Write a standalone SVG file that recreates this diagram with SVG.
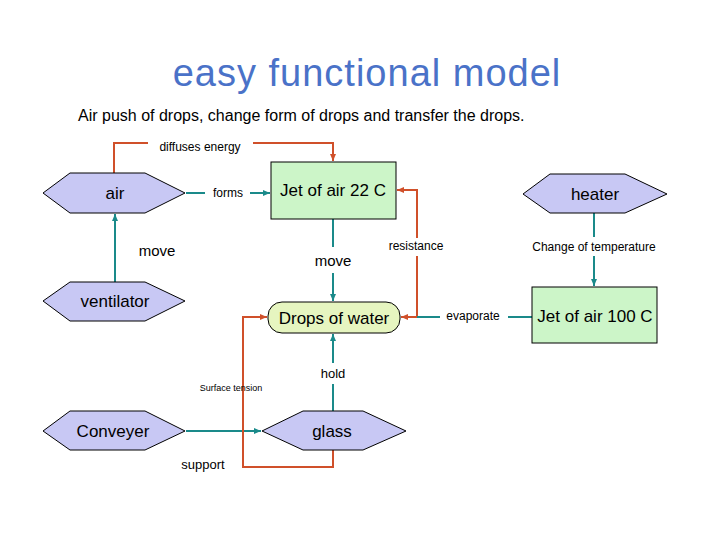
<svg xmlns="http://www.w3.org/2000/svg" width="720" height="540" viewBox="0 0 720 540">
<defs>
<marker id="at" markerWidth="8" markerHeight="8" refX="7" refY="4" orient="auto" markerUnits="userSpaceOnUse"><path d="M0,1 L7,4 L0,7 z" fill="#1a8a8a"/></marker>
<marker id="ar" markerWidth="8" markerHeight="8" refX="7" refY="4" orient="auto" markerUnits="userSpaceOnUse"><path d="M0,1 L7,4 L0,7 z" fill="#d0502a"/></marker>
</defs>
<style>
text{font-family:"Liberation Sans",Arial,sans-serif;fill:#000}
.hex{fill:#c8c8f4;stroke:#000;stroke-width:1}
.box{fill:#ccf5c8;stroke:#000;stroke-width:1}
.t{stroke:#1a8a8a;stroke-width:2;fill:none}
.r{stroke:#d0502a;stroke-width:2;fill:none}
.n{font-size:17px;text-anchor:middle}
.s{font-size:12px;text-anchor:middle}
.m{font-size:15px;text-anchor:middle}
</style>
<rect width="720" height="540" fill="#fff"/>
<text x="367" y="86" style="font-size:38px;fill:#4a72c8;text-anchor:middle;letter-spacing:1px">easy functional model</text>
<text x="78" y="121" style="font-size:16px">Air push of drops, change form of drops and transfer the drops.</text>
<g id="connectors">
<polyline class="r" points="114,173 114,143 148,143"/>
<polyline class="r" points="253,143 333,143 333,161" marker-end="url(#ar)"/>
<text x="200" y="151" class="s">diffuses energy</text>
<line class="t" x1="186" y1="193" x2="205" y2="193"/>
<line class="t" x1="250" y1="193" x2="270" y2="193" marker-end="url(#at)"/>
<text x="228" y="197" class="s">forms</text>
<line class="t" x1="115" y1="282" x2="115" y2="214" marker-end="url(#at)"/>
<text x="157" y="256" class="m">move</text>
<line class="t" x1="333" y1="219" x2="333" y2="247"/>
<line class="t" x1="333" y1="273" x2="333" y2="301" marker-end="url(#at)"/>
<text x="333" y="266" class="m">move</text>
<polyline class="r" points="417,317 417,256"/>
<polyline class="r" points="417,238 417,190 397,190" marker-end="url(#ar)"/>
<text x="416" y="250" class="s">resistance</text>
<line class="t" x1="532" y1="317" x2="508" y2="317"/>
<line class="t" x1="440" y1="317" x2="417" y2="317"/>
<line class="r" x1="417" y1="317" x2="401" y2="317" marker-end="url(#ar)"/>
<text x="473" y="320" class="s">evaporate</text>
<line class="t" x1="594" y1="213" x2="594" y2="237"/>
<line class="t" x1="594" y1="256" x2="594" y2="286" marker-end="url(#at)"/>
<text x="594" y="251" class="s">Change of temperature</text>
<line class="t" x1="333" y1="411" x2="333" y2="384"/>
<line class="t" x1="333" y1="363" x2="333" y2="334" marker-end="url(#at)"/>
<text x="333" y="378" class="s" style="font-size:13px">hold</text>
<line class="t" x1="186" y1="431" x2="261" y2="431" marker-end="url(#at)"/>
<polyline class="r" points="333,450 333,467 243,467 243,317 267,317" marker-end="url(#ar)"/>
<text x="231" y="391" class="s" style="font-size:9px">Surface tension</text>
<text x="203" y="469" class="s" style="font-size:13px">support</text>
</g>
<g id="air"><polygon class="hex" points="43,193 70,173 145,173 185,193 145,213 70,213"/><text x="115" y="199" class="n">air</text></g>
<g id="ventilator"><polygon class="hex" points="43,301 70,282 145,282 185,301 145,321 70,321"/><text x="115" y="307" class="n">ventilator</text></g>
<g id="jet22"><rect class="box" x="271" y="162" width="125" height="57"/><text x="333" y="196" class="n">Jet of air 22 C</text></g>
<g id="drops"><rect x="268" y="302" width="132" height="31" rx="14" fill="#e6f5c0" stroke="#000"/><text x="334" y="324" class="n">Drops of water</text></g>
<g id="heater"><polygon class="hex" points="523,194 550,174 625,174 667,194 625,213 550,213"/><text x="595" y="200" class="n">heater</text></g>
<g id="jet100"><rect class="box" x="532" y="287" width="125" height="56"/><text x="595" y="322" class="n">Jet of air 100 C</text></g>
<g id="conveyer"><polygon class="hex" points="43,431 70,411 145,411 185,431 145,450 70,450"/><text x="113" y="437" class="n">Conveyer</text></g>
<g id="glass"><polygon class="hex" points="262,431 303,411 363,411 406,431 363,450 303,450"/><text x="332" y="437" class="n">glass</text></g>
</svg>
